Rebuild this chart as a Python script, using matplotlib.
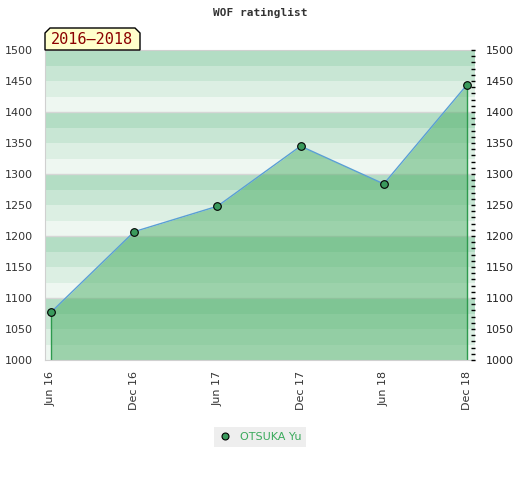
import matplotlib.pyplot as plt
from matplotlib.patches import Polygon
from matplotlib.lines import Line2D

# data
periods = ['Jun 16', 'Dec 16', 'Jun 17', 'Dec 17', 'Jun 18', 'Dec 18']
ratings = [1077, 1207, 1248, 1345, 1284, 1444]
player = 'OTSUKA Yu'
span_label = '2016\u20132018'
y_min, y_max = 1000, 1500

fig = plt.figure(figsize=(5.2, 4.8), dpi=100)
ax = fig.add_axes([45/520, 120/480, 430/520, 310/480])

# striped background, 4 bands per hundred
band_cols = ['#eef7f1', '#dcefe3', '#c8e6d4', '#b3ddc4']
for lo in range(y_min, y_max, 25):
    ax.axhspan(lo, lo + 25, color=band_cols[(lo % 100) // 25], lw=0, zorder=0)
for h in range(y_min + 100, y_max, 100):
    ax.axhline(h, color='#d6d6d6', lw=1, zorder=0.5)

x = list(range(len(periods)))
ax.fill_between(x, y_min, ratings, color='#4caf66', alpha=0.5, lw=0, zorder=1)
ax.vlines([x[0], x[-1]], y_min, [ratings[0], ratings[-1]], color='#2e9a4e', lw=1, zorder=2)
ax.plot(x, ratings, color='#5a9fd4', lw=1, zorder=3)
ax.plot(x, ratings, 'o', ms=5.5, mfc='#3a9a5c', mec='black', mew=0.8, zorder=4)

ax.set_xlim(-0.072, 5.096)
ax.set_ylim(y_min, y_max)
ax.set_xticks(x)
ax.set_xticklabels(periods, rotation=90, fontsize=8, color='#333333')
ax.tick_params(axis='x', length=0, pad=8)
ax.set_yticks(range(y_min, y_max + 1, 50))
ax.tick_params(axis='y', length=0, pad=9, labelsize=8, labelcolor='#333333')
for s in ['left', 'bottom', 'top']:
    ax.spines[s].set_color('#d0d0d0')
ax.spines['right'].set_visible(False)

ax2 = ax.twinx()
ax2.set_ylim(y_min, y_max)
ax2.set_yticks(range(y_min, y_max + 1, 50))
ax2.set_yticks(range(y_min, y_max + 1, 10), minor=True)
ax2.tick_params(axis='y', which='both', direction='in', length=3, width=1, color='black',
                labelsize=8, labelcolor='#222222', pad=8)
for s in ax2.spines.values():
    s.set_visible(False)

fig.text(0.5, 1 - 13/480, 'WOF ratinglist', ha='center', va='center',
         family='DejaVu Sans Mono', fontweight='bold', fontsize=8, color='#333333')

# period tag box with chamfered top corners
px = [45, 45, 50, 135, 140, 140]
py = [50, 33, 28, 28, 33, 50]
tag = Polygon([(a/520, 1 - b/480) for a, b in zip(px, py)], closed=True,
              transform=fig.transFigure, facecolor='#ffffcc', edgecolor='black', lw=1)
fig.patches.append(tag)
fig.text(92/520, 1 - 40/480, span_label, ha='center', va='center',
         family='DejaVu Sans Mono', fontsize=11, color='#8b0000')

handle = Line2D([], [], ls='none', marker='o', ms=5, mfc='#3a9a5c', mec='black', mew=0.8)
leg = fig.legend([handle], [player], loc='center', bbox_to_anchor=(0.5, 1 - 437/480),
                 frameon=True, facecolor='#eeeeee', edgecolor='none', fancybox=False,
                 fontsize=8, handletextpad=0.7, borderpad=0.45, borderaxespad=0,
                 handlelength=1.2)
leg.get_frame().set_alpha(1)
for t in leg.get_texts():
    t.set_color('#3aaa5c')

fig.savefig('out.png', dpi=100)
